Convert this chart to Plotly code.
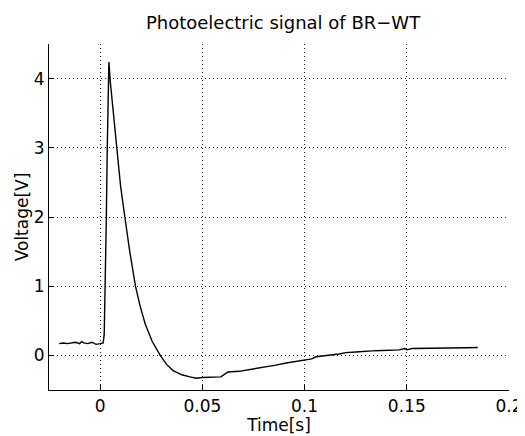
import plotly.graph_objects as go

time_s = [-0.0200, -0.0180, -0.0160, -0.0140, -0.0120, -0.0100, -0.0090, -0.0080, -0.0060, -0.0040, -0.0020, 0.0000, 0.0015,
          0.0020, 0.0025, 0.0030, 0.0035, 0.0040, 0.0043,
          0.0050, 0.0065, 0.0080, 0.0100, 0.0121, 0.0145, 0.0173, 0.0195, 0.0221, 0.0255, 0.0294, 0.0325, 0.0357,
          0.0400, 0.0440, 0.0470, 0.0500, 0.0550, 0.0590, 0.0615, 0.0625, 0.0680, 0.0720, 0.0770, 0.0813, 0.0860,
          0.0910, 0.0960, 0.1008, 0.1035, 0.1057, 0.1100, 0.1137, 0.1170, 0.1202, 0.1250, 0.1283, 0.1330, 0.1380,
          0.1420, 0.1462, 0.1490, 0.1500, 0.1526, 0.1580, 0.1624, 0.1680, 0.1737, 0.1790, 0.1847]
voltage_v = [0.17, 0.18, 0.17, 0.18, 0.19, 0.17, 0.20, 0.18, 0.17, 0.19, 0.16, 0.17, 0.18,
             0.30, 0.90, 1.90, 3.00, 3.90, 4.24,
             3.95, 3.50, 3.00, 2.45, 2.00, 1.50, 1.00, 0.72, 0.45, 0.20, 0.00, -0.13, -0.22,
             -0.28, -0.31, -0.33, -0.32, -0.32, -0.31, -0.26, -0.24, -0.23, -0.21, -0.19, -0.17, -0.14,
             -0.11, -0.09, -0.07, -0.05, -0.02, 0.00, 0.01, 0.02, 0.04, 0.05, 0.06, 0.065, 0.07,
             0.08, 0.08, 0.10, 0.08, 0.10, 0.10, 0.105, 0.11, 0.11, 0.11, 0.115]

x_ticks = [0, 0.05, 0.1, 0.15, 0.2]
x_labels = ["0", "0.05", "0.1", "0.15", "0.2"]
y_ticks = [0, 1, 2, 3, 4]
y_labels = ["0", "1", "2", "3", "4"]

FONT = "DejaVu Sans, sans-serif"

# The page body has an 8px default margin, so the figure is sized to fit the
# remaining window area.
fig = go.Figure()
fig.add_trace(go.Scatter(x=time_s, y=voltage_v, mode="lines",
                         line=dict(color="black", width=1.4), showlegend=False))

fig.update_layout(
    width=517, height=428,
    margin=dict(l=41, r=16, t=36, b=46),
    paper_bgcolor="white", plot_bgcolor="white",
    font=dict(family=FONT, size=17, color="black"),
    title=dict(text="Photoelectric signal of BR\u2212WT", x=0.532, xanchor="center",
               y=1 - 15 / 428, yref="container", yanchor="middle",
               font=dict(family=FONT, size=18, color="black")),
)
fig.update_xaxes(
    range=[-0.025, 0.2], tickvals=x_ticks, ticktext=x_labels,
    showline=True, linecolor="black", linewidth=1.2, mirror=False,
    ticks="inside", ticklen=5, tickcolor="black",
    showgrid=True, gridcolor="#222", griddash="1px,3px", gridwidth=1,
    zeroline=False, automargin=False,
    title=dict(text="Time[s]", standoff=2, font=dict(size=17)),
)
fig.update_yaxes(
    range=[-0.5, 4.5], tickvals=y_ticks, ticktext=y_labels,
    showline=True, linecolor="black", linewidth=1.2, mirror=False,
    ticks="inside", ticklen=5, tickcolor="black",
    showgrid=True, gridcolor="#222", griddash="1px,3px", gridwidth=1,
    zeroline=False, automargin=False,
    title=dict(text="Voltage[V]", standoff=0, font=dict(size=17)),
)

fig.write_html("out.html")
